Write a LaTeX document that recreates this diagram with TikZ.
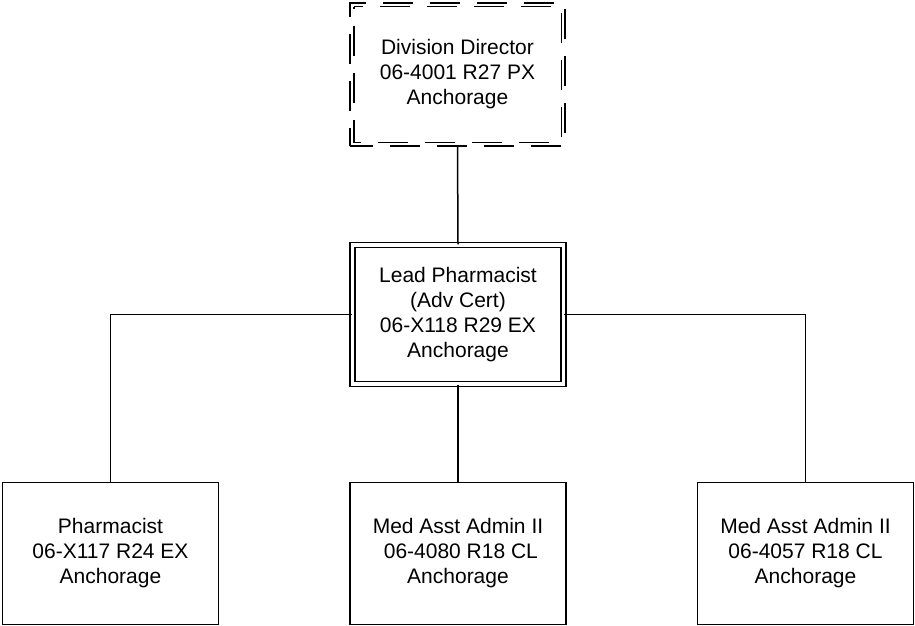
\documentclass[tikz,border=0pt]{standalone}
\usepackage{fontspec}
\setmainfont{Liberation Sans}
\usetikzlibrary{positioning}
\tikzset{font=\fontsize{21}{25}\selectfont}
\tikzset{orgbox/.style={draw, line width=1.5pt, align=center, inner sep=0pt,
    minimum width=216pt, minimum height=142pt}}
\tikzset{leadbox/.style={orgbox, double, double distance=3.5pt,
    minimum width=211pt, minimum height=139pt}}
\tikzset{chiefbox/.style={orgbox, dash pattern=on 30pt off 17pt, dash phase=7pt,
    minimum width=215pt, minimum height=143pt}}
\tikzset{link/.style={line width=1.5pt}}

\begin{document}
\begin{tikzpicture}[x=1pt,y=-1pt]
  \useasboundingbox (0,0) rectangle (915,626);

  \node[chiefbox] (director) at (457.5,74.5)
    {Division Director\\06-4001 R27 PX\\Anchorage};
  \draw[line width=1.5pt, dash pattern=on 30pt off 17pt, dash phase=28pt]
    ([shift={(4.5pt,-4.5pt)}]director.north west)
    rectangle ([shift={(-4.5pt,4.5pt)}]director.south east);

  \node[leadbox] (lead) at (458,314.7)
    {Lead Pharmacist\\(Adv Cert)\\06-X118 R29 EX\\Anchorage};

  \node[orgbox] (pharm) at (110.5,553.5)
    {Pharmacist\\06-X117 R24 EX\\Anchorage};
  \node[orgbox] (medasst) at (458,553.5)
    {Med Asst Admin II\\\ 06-4080 R18 CL\\Anchorage};
  \node[orgbox] (medasstb) at (805.5,553.5)
    {Med Asst Admin II\\06-4057 R18 CL\\Anchorage};

  \draw[link] (director.south) -- (lead.north);
  \draw[link] (lead.west) -| (pharm.north);
  \draw[link] (lead.south) -- (medasst.north);
  \draw[link] (lead.east) -| (medasstb.north);

\end{tikzpicture}
\end{document}
